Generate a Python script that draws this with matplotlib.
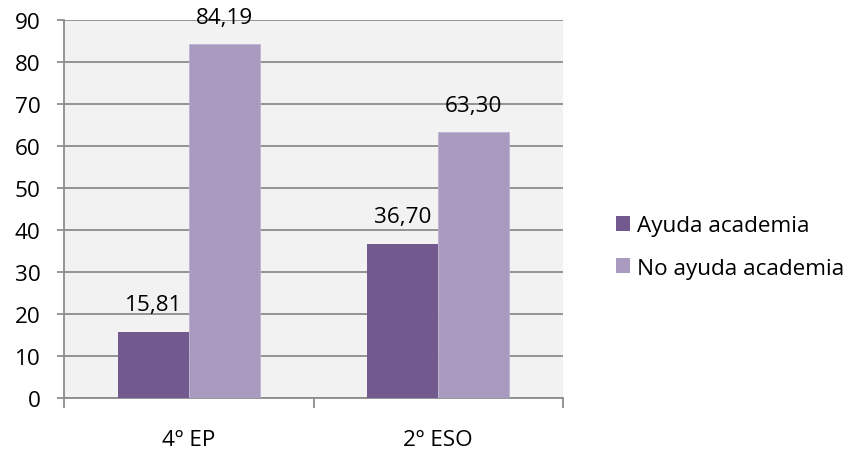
import matplotlib.pyplot as plt
import numpy as np
from matplotlib.patches import Patch

categories = ["4º EP", "2º ESO"]
series_names = ["Ayuda academia", "No ayuda academia"]
ayuda = [15.81, 36.70]
no_ayuda = [84.19, 63.30]
y_ticks = [0, 10, 20, 30, 40, 50, 60, 70, 80, 90]

DARK = "#725A8F"
LIGHT = "#A99ABF"
GRID = "#8C8C8C"
FONT = "Open Sans"
FS = 16.2


def label(v):
    return f"{v:.2f}".replace(".", ",")


fig = plt.figure(figsize=(8.55, 4.52), dpi=100)
fig.patch.set_facecolor("white")
ax = fig.add_axes([64 / 855, 1 - 399 / 452, (563 - 64) / 855, (399 - 21) / 452])
ax.set_facecolor("#F2F2F2")

x = np.arange(len(categories))
w = 0.285
b1 = ax.bar(x - w / 2, ayuda, w, color=DARK, zorder=3)
b2 = ax.bar(x + w / 2, no_ayuda, w, color=LIGHT, edgecolor="#BDB2CF", linewidth=0.6, zorder=3)

for bars, vals in ((b1, ayuda), (b2, no_ayuda)):
    for rect, v in zip(bars, vals):
        ax.annotate(label(v), (rect.get_x() + rect.get_width() / 2, v),
                    xytext=(0, 19.5), textcoords="offset points",
                    ha="center", va="center", fontsize=FS, family=FONT,
                    color="black", annotation_clip=False)

ax.set_ylim(0, 90)
ax.set_xlim(-0.5, len(categories) - 0.5)
ax.set_yticks(y_ticks)
ax.set_yticklabels([str(t) for t in y_ticks], family=FONT, fontsize=FS)
ax.yaxis.grid(True, color=GRID, linewidth=1.3, zorder=1)
ax.set_axisbelow(True)

# category labels centred, ticks on category boundaries
ax.set_xticks(x)
ax.set_xticklabels(categories, family=FONT, fontsize=FS)
ax.tick_params(axis="x", length=0, pad=22)
ax.set_xticks(np.arange(len(categories) + 1) - 0.5, minor=True)
ax.tick_params(axis="x", which="minor", length=7, width=1.3, color=GRID)
ax.tick_params(axis="y", length=5, width=1.3, color=GRID, pad=12)

for side in ("top", "right"):
    ax.spines[side].set_visible(False)
for side in ("left", "bottom"):
    ax.spines[side].set_color(GRID)
    ax.spines[side].set_linewidth(1.3)

handles = [Patch(facecolor=DARK), Patch(facecolor=LIGHT)]
fig.legend(handles, series_names, loc="center left",
           bbox_to_anchor=(616 / 855, 1 - 248 / 452), frameon=False,
           prop={"family": FONT, "size": FS}, handlelength=0.62,
           handleheight=0.62, handletextpad=0.32, labelspacing=0.95,
           borderpad=0, borderaxespad=0)

fig.savefig("out.png", dpi=100)
